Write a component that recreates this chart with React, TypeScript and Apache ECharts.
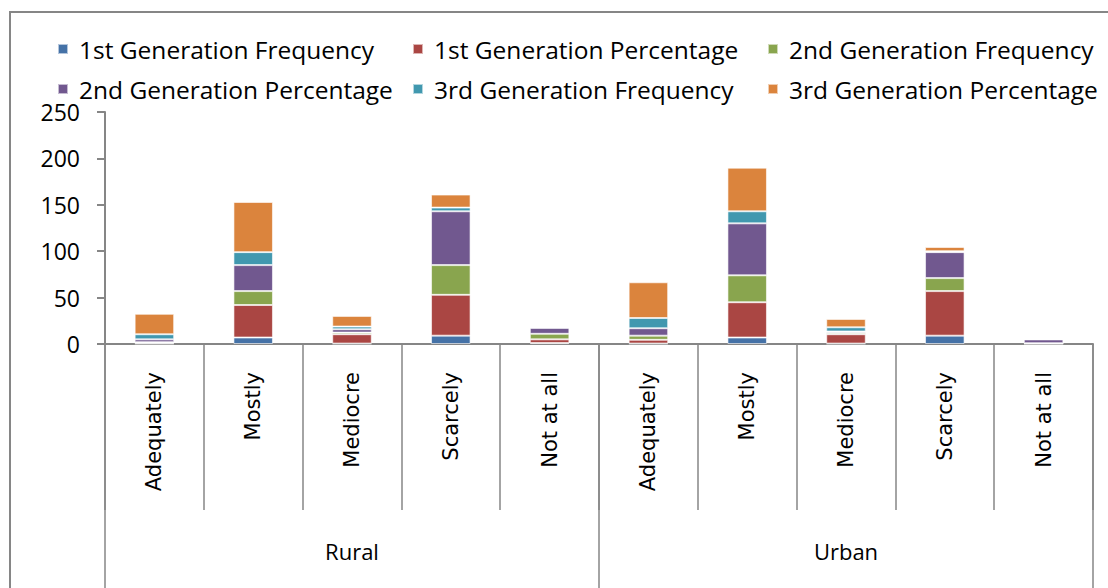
import React, { useEffect, useRef } from "react";
import * as echarts from "echarts";

const categories = [
  "Adequately", "Mostly", "Mediocre", "Scarcely", "Not at all",
  "Adequately", "Mostly", "Mediocre", "Scarcely", "Not at all",
];
const groups = ["Rural", "Urban"];
const yTicks = [0, 50, 100, 150, 200, 250];

const seriesNames = [
  "1st Generation Frequency",
  "1st Generation Percentage",
  "2nd Generation Frequency",
  "2nd Generation Percentage",
  "3rd Generation Frequency",
  "3rd Generation Percentage",
];
const gen1Freq = [0.5, 7, 0.5, 9, 1, 0.5, 7, 0.5, 9, 0.3];
const gen1Pct = [1, 35, 10, 44, 4, 4, 38, 10, 48, 0.3];
const gen2Freq = [0.5, 15, 1.8, 32, 6, 4.5, 29, 1.5, 14, 0.3];
const gen2Pct = [3, 28, 3.6, 58, 6.5, 8, 56, 1.5, 28, 4];
const gen3Freq = [5.5, 14, 2.9, 4, 0, 11, 13, 4.5, 1, 0];
const gen3Pct = [22, 54, 11.5, 14, 0, 38.5, 47, 9, 4.5, 0];

const seriesData = [gen1Freq, gen1Pct, gen2Freq, gen2Pct, gen3Freq, gen3Pct];
const colors = ["#4572A7", "#AA4643", "#89A54E", "#71588F", "#4198AF", "#DB843D"];

const legendPos = [
  { left: 57, top: 35 },
  { left: 412, top: 35 },
  { left: 767, top: 35 },
  { left: 57, top: 75 },
  { left: 412, top: 75 },
  { left: 767, top: 75 },
];

export default function App() {
  const ref = useRef<HTMLDivElement>(null);
  useEffect(() => {
    if (!ref.current) return;
    const chart = echarts.init(ref.current, null, { renderer: "svg" });
    const axisGray = "#868686";
    chart.setOption({
      animation: false,
      color: colors,
      grid: { left: 105, right: 15, top: 112, bottom: 244, containLabel: false },
      legend: seriesNames.map((n, i) => ({
        data: [n],
        left: legendPos[i].left,
        top: legendPos[i].top,
        padding: 0,
        itemWidth: 10,
        itemHeight: 10,
        icon: "rect",
        selectedMode: false,
        textStyle: {
          fontFamily: "Open Sans",
          fontSize: 24.5,
          color: "#000",
          lineHeight: 28,
          padding: [0, 0, 0, 6],
        },
      })),
      xAxis: [
        {
          type: "category",
          data: categories,
          position: "bottom",
          axisLine: { lineStyle: { color: axisGray, width: 2 } },
          axisTick: { show: true, interval: 0, length: 166, lineStyle: { color: axisGray, width: 1.5 } },
          axisLabel: {
            interval: 0,
            rotate: 90,
            margin: 28,
            fontFamily: "DejaVu Sans",
            fontSize: 21,
            color: "#000",
          },
        },
        {
          type: "category",
          data: groups,
          position: "bottom",
          axisLine: { show: false },
          axisTick: { show: true, interval: 0, length: 250, lineStyle: { color: axisGray, width: 1.5 } },
          axisLabel: {
            interval: 0,
            margin: 196,
            fontFamily: "Open Sans",
            fontSize: 22,
            color: "#000",
          },
        },
      ],
      yAxis: {
        type: "value",
        min: yTicks[0],
        max: yTicks[yTicks.length - 1],
        interval: 50,
        splitLine: { show: false },
        axisLine: { show: true, lineStyle: { color: axisGray, width: 2 } },
        axisTick: { show: true, length: 8, lineStyle: { color: axisGray, width: 2 } },
        axisLabel: {
          margin: 25,
          fontFamily: "Open Sans",
          fontSize: 23,
          color: "#000",
        },
      },
      graphic: [
        {
          type: "rect",
          shape: { x: 10, y: 12, width: 1130, height: 620 },
          style: { fill: "none", stroke: axisGray, lineWidth: 2 },
          silent: true,
        },
      ],
      series: seriesNames.map((n, i) => ({
        name: n,
        type: "bar",
        stack: "total",
        barWidth: "40%",
        xAxisIndex: 0,
        data: seriesData[i],
        itemStyle: { color: colors[i], borderColor: "rgba(255,255,255,0.6)", borderWidth: 1 },
      })),
    });
    return () => chart.dispose();
  }, []);
  return (
    <div
      ref={ref}
      style={{ position: "fixed", left: 0, top: 0, width: 1108, height: 588, background: "#fff" }}
    />
  );
}
